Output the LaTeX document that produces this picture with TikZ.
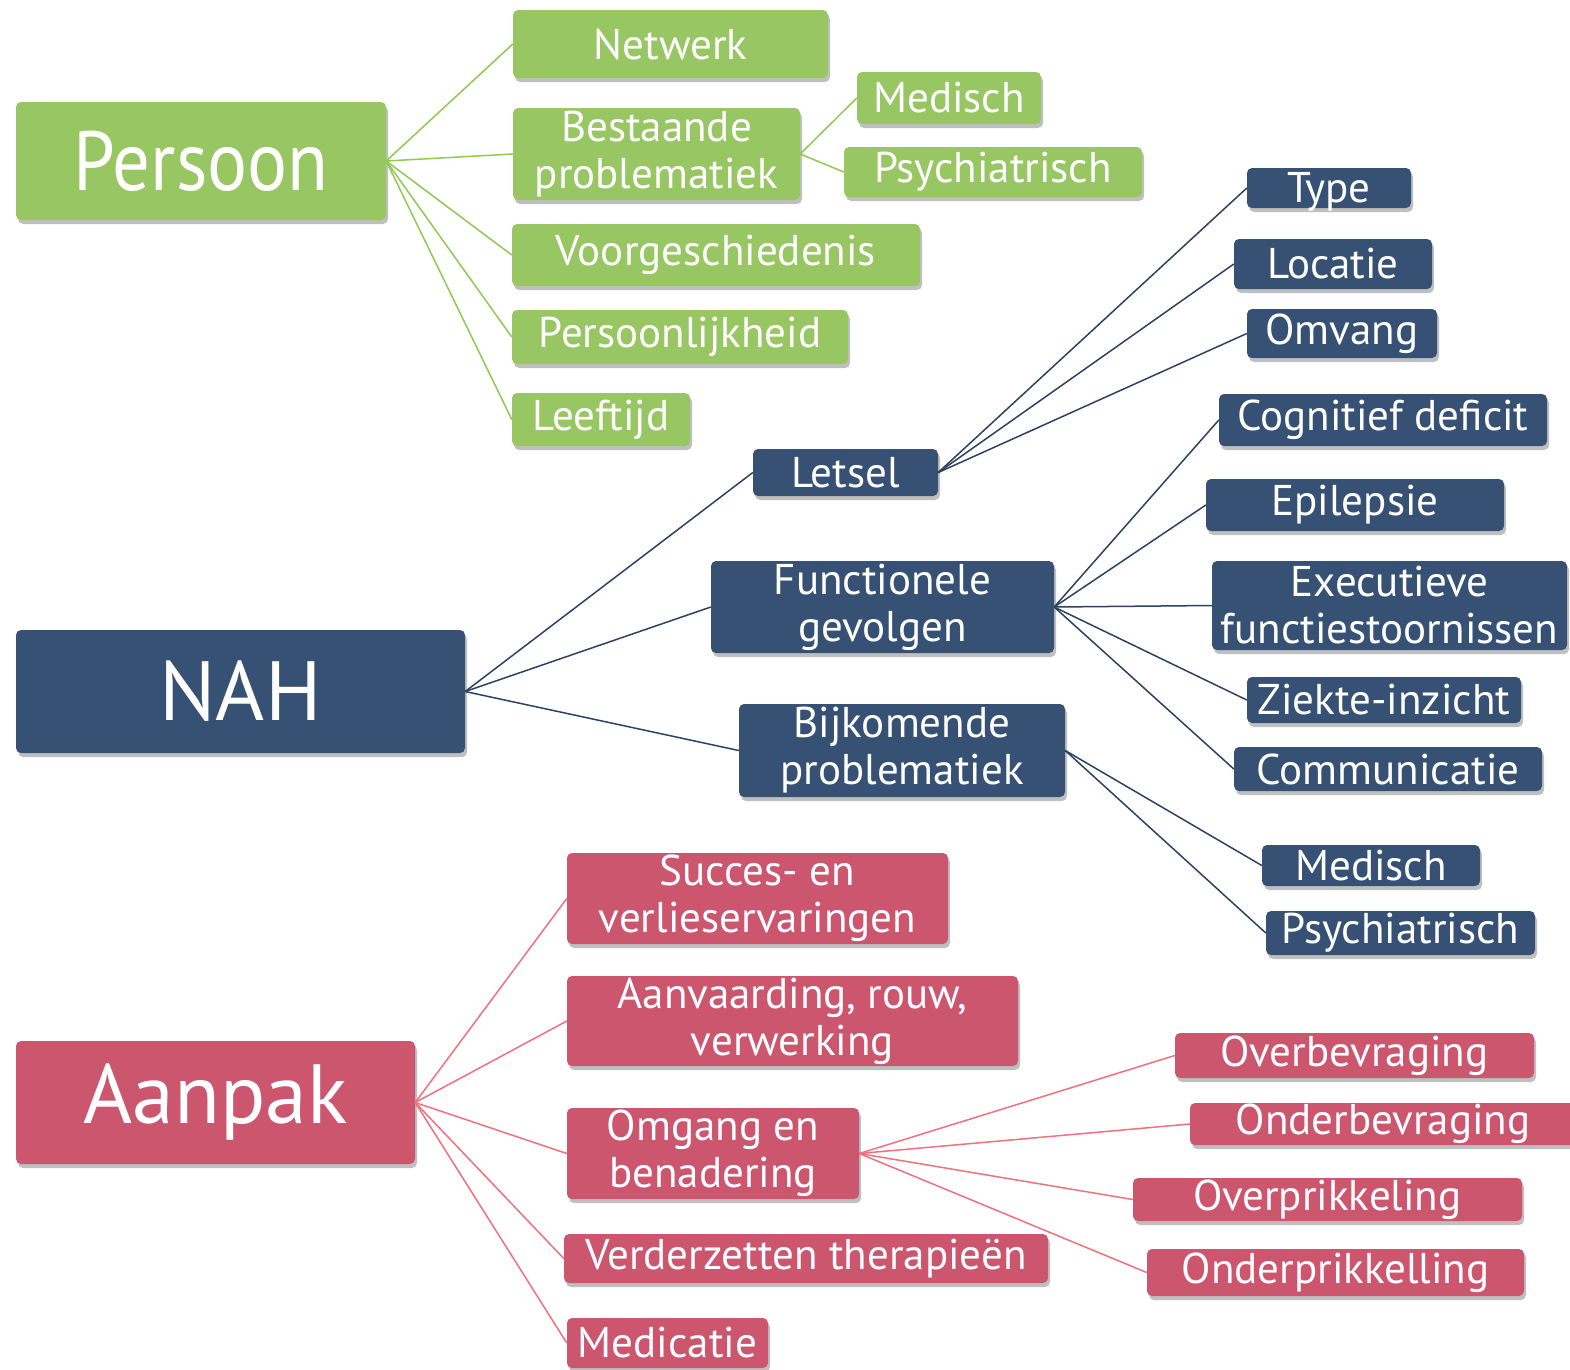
\documentclass[tikz,border=0pt]{standalone}
\usepackage{fontspec}
\setmainfont{PT Sans}
\usetikzlibrary{shadows}
\definecolor{gfill}{HTML}{97C663}
\definecolor{bfill}{HTML}{375174}
\definecolor{rfill}{HTML}{CD566F}
\definecolor{gline}{HTML}{8FC94F}
\definecolor{bline}{HTML}{2C4262}
\definecolor{rline}{HTML}{F2707E}
\tikzset{
  base/.style={rounded corners=5pt, text=white, align=center, inner sep=0pt,
    drop shadow={shadow xshift=2pt, shadow yshift=-4pt, opacity=0.25, fill=black}},
  gbox/.style={base, fill=gfill},
  bbox/.style={base, fill=bfill},
  rbox/.style={base, fill=rfill},
  big/.style={font=\fontsize{84}{90}\selectfont},
  mid/.style={font=\fontsize{43}{47}\selectfont},
  gl/.style={gline, line width=1.5pt},
  bl/.style={bline, line width=1.5pt},
  rl/.style={rline, line width=1.5pt},
}
\begin{document}
\begin{tikzpicture}[x=1pt,y=-1pt]
\useasboundingbox (0,0) rectangle (1570,1369);
% Persoon
\node[gbox,big,minimum width=370pt,minimum height=118pt] (pers) at (201,161) {\scalebox{0.89}[1]{Persoon}};
\node[gbox,mid,minimum width=315pt,minimum height=68pt] (netw) at (670.5,44) {Netwerk};
\node[gbox,mid,minimum width=287pt,minimum height=92pt] (best) at (656.5,154) {Bestaande\\problematiek};
\node[gbox,mid,minimum width=184pt,minimum height=52pt] (medg) at (949,98) {Medisch};
\node[gbox,mid,minimum width=298pt,minimum height=50pt] (psyg) at (993,172) {Psychiatrisch};
\node[gbox,mid,minimum width=408pt,minimum height=62pt] (voor) at (716,255) {Voorgeschiedenis};
\node[gbox,mid,minimum width=336pt,minimum height=54pt] (psnl) at (680,337) {Persoonlijkheid};
\node[gbox,mid,minimum width=178pt,minimum height=53pt] (leef) at (601,419.5) {Leeftijd};
% NAH
\node[bbox,big,minimum width=449pt,minimum height=123pt] (nah) at (240.5,691.5) {NAH};
\node[bbox,mid,minimum width=185pt,minimum height=47pt] (lets) at (845.5,472.5) {Letsel};
\node[bbox,mid,minimum width=343pt,minimum height=92pt] (func) at (882.5,607) {Functionele\\gevolgen};
\node[bbox,mid,minimum width=326pt,minimum height=93pt] (bijk) at (902,750.5) {Bijkomende\\problematiek};
\node[bbox,mid,minimum width=164pt,minimum height=40pt,text height=32pt,text depth=4pt] (type) at (1329,188) {Type};
\node[bbox,mid,minimum width=198pt,minimum height=50pt] (loca) at (1333,264) {Locatie};
\node[bbox,mid,minimum width=190pt,minimum height=49pt] (omva) at (1342,333.5) {Omvang};
\node[bbox,mid,minimum width=328pt,minimum height=52pt] (cogn) at (1383,420) {Cognitief deficit};
\node[bbox,mid,minimum width=298pt,minimum height=52pt] (epil) at (1355,505) {Epilepsie};
\node[bbox,mid,minimum width=355pt,minimum height=89pt] (exec) at (1389.5,605.5) {Executieve\\functiestoornissen};
\node[bbox,mid,minimum width=274pt,minimum height=46pt] (ziek) at (1384,700) {Ziekte-inzicht};
\node[bbox,mid,minimum width=308pt,minimum height=44pt] (comm) at (1388,769) {Communicatie};
\node[bbox,mid,minimum width=218pt,minimum height=41pt] (medb) at (1371,865.5) {Medisch};
\node[bbox,mid,minimum width=269pt,minimum height=44pt] (psyb) at (1400.5,933) {Psychiatrisch};
% Aanpak
\node[rbox,big,minimum width=399pt,minimum height=123pt] (aanp) at (215.5,1102.5) {Aanpak};
\node[rbox,mid,minimum width=381pt,minimum height=91pt] (succ) at (757.5,898.5) {Succes- en\\verlieservaringen};
\node[rbox,mid,minimum width=451pt,minimum height=90pt] (aanv) at (792.5,1021) {Aanvaarding, rouw,\\verwerking};
\node[rbox,mid,minimum width=292pt,minimum height=91pt] (omga) at (713,1153.5) {Omgang en\\benadering};
\node[rbox,mid,minimum width=484pt,minimum height=49pt] (verd) at (806,1258.5) {Verderzetten therapieën};
\node[rbox,mid,minimum width=201pt,minimum height=50pt] (medi) at (667.5,1343) {Medicatie};
\node[rbox,mid,minimum width=359pt,minimum height=45pt] (ovbv) at (1354.5,1055.5) {Overbevraging};
\node[rbox,mid,minimum width=386pt,minimum height=42pt] (onbv) at (1383,1124) {Onderbevraging};
\node[rbox,mid,minimum width=389pt,minimum height=43pt] (ovpr) at (1327.5,1199.5) {Overprikkeling};
\node[rbox,mid,minimum width=377pt,minimum height=47pt] (onpr) at (1335.5,1272.5) {Onderprikkelling};
% connectors
\foreach \t in {netw,best,voor,psnl,leef} \draw[gl] (pers.east) -- (\t.west);
\foreach \t in {medg,psyg} \draw[gl] (best.east) -- (\t.west);
\foreach \t in {lets,func,bijk} \draw[bl] (nah.east) -- (\t.west);
\foreach \t in {type,loca,omva} \draw[bl] (lets.east) -- (\t.west);
\foreach \t in {cogn,epil,exec,ziek,comm} \draw[bl] (func.east) -- (\t.west);
\foreach \t in {medb,psyb} \draw[bl] (bijk.east) -- (\t.west);
\foreach \t in {succ,aanv,omga,verd,medi} \draw[rl] (aanp.east) -- (\t.west);
\foreach \t in {ovbv,onbv,ovpr,onpr} \draw[rl] (omga.east) -- (\t.west);
\end{tikzpicture}
\end{document}
